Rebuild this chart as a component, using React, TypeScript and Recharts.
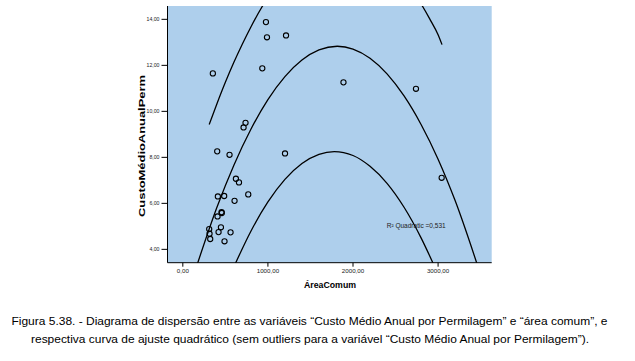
import React from "react"
import { ComposedChart, Line, Scatter, XAxis, YAxis, CartesianGrid } from "recharts"

// scatter points: área comum vs custo médio anual por permilagem
const areaComum = [404, 549, 1201, 624, 660, 769, 412, 486, 608, 455, 458, 408, 310, 448, 314, 420, 561, 322, 490, 977, 989, 1213, 934, 353, 737, 714, 1888, 2740, 3042]
const custoMedio = [8.26, 8.11, 8.17, 7.07, 6.91, 6.39, 6.3, 6.32, 6.11, 5.62, 5.58, 5.43, 4.88, 4.96, 4.68, 4.75, 4.74, 4.45, 4.35, 13.88, 13.22, 13.3, 11.87, 11.65, 9.5, 9.3, 11.26, 10.98, 7.11]

// quadratic fit curve
const fitX = [150, 400, 600, 800, 1000, 1200, 1400, 1600, 1815, 2000, 2200, 2400, 2600, 2800, 3000, 3200, 3500]
const fitY = [3.13, 5.82, 7.66, 9.22, 10.51, 11.51, 12.23, 12.67, 12.83, 12.71, 12.31, 11.63, 10.67, 9.43, 7.92, 6.12, 2.89]

// lower and upper bound curves
const lowerX = [600, 800, 1000, 1200, 1400, 1600, 1780, 2000, 2200, 2400, 2600, 2800, 2960]
const lowerY = [3.24, 4.79, 6.06, 7.04, 7.73, 8.13, 8.25, 8.08, 7.61, 6.87, 5.83, 4.5, 3.24]
const upperX = [310, 400, 500, 600, 700, 800, 937, 1200, 1876, 2500, 2815, 2900, 3000, 3046]
const upperY = [9.43, 10.32, 11.26, 12.13, 12.93, 13.67, 14.58, 15.97, 17.47, 16.19, 14.58, 14.03, 13.33, 12.9]

const xTicks = [0, 1000, 2000, 3000]
const yTicks = [4, 6, 8, 10, 12, 14]

const toRows = (xs: number[], ys: number[]) => xs.map((x, i) => ({ x, y: ys[i] }))

const FONT = "'Liberation Sans', Arial, sans-serif"
const PLOT_BG = "#aecfec"

const fmt = (v: number) => v.toFixed(2).replace(".", ",")

const OpenCircle = (props: any) => {
  const { cx, cy } = props
  return <circle cx={cx} cy={cy} r={2.6} fill="none" stroke="#000" strokeWidth={1.1} />
}

export default function App() {
  const points = toRows(areaComum, custoMedio)
  const fit = toRows(fitX, fitY)
  const lower = toRows(lowerX, lowerY)
  const upper = toRows(upperX, upperY)

  return (
    <div style={{ position: "absolute", left: 0, top: 0, width: 635, height: 361, background: "#fff" }}>
      <ComposedChart width={635} height={300} margin={{ top: 6, right: 143.3, bottom: 7.3, left: 107.5 }}>
        <CartesianGrid horizontal={false} vertical={false} fill={PLOT_BG} />
        <XAxis
          type="number"
          dataKey="x"
          domain={[-180, 3630]}
          allowDataOverflow
          ticks={xTicks}
          tickFormatter={fmt}
          tick={{ fontSize: 6.2, fill: "#222", fontFamily: FONT }}
          tickSize={4}
          tickMargin={1.5}
          height={30}
          axisLine={{ stroke: "#000" }}
          tickLine={{ stroke: "#000" }}
        />
        <XAxis
          xAxisId="top"
          orientation="top"
          type="number"
          domain={[-180, 3630]}
          height={0}
          tick={false}
          tickLine={false}
          axisLine={{ stroke: "#000" }}
        />
        <YAxis
          type="number"
          domain={[3.42, 14.58]}
          allowDataOverflow
          ticks={yTicks}
          tickFormatter={fmt}
          tick={{ fontSize: 5.2, fill: "#222", fontFamily: FONT }}
          tickSize={6}
          tickMargin={2}
          width={60}
          axisLine={{ stroke: "#000" }}
          tickLine={{ stroke: "#000" }}
        />
        <YAxis
          yAxisId="right"
          orientation="right"
          type="number"
          domain={[3.42, 14.58]}
          width={0}
          tick={false}
          tickLine={false}
          axisLine={{ stroke: "#000" }}
        />
        <Line data={upper} dataKey="y" type="monotone" stroke="#000" strokeWidth={1.3} dot={false} isAnimationActive={false} />
        <Line data={fit} dataKey="y" type="monotone" stroke="#000" strokeWidth={1.3} dot={false} isAnimationActive={false} />
        <Line data={lower} dataKey="y" type="monotone" stroke="#000" strokeWidth={1.3} dot={false} isAnimationActive={false} />
        <Scatter data={points} dataKey="y" shape={OpenCircle} isAnimationActive={false} />
      </ComposedChart>

      {/* titles, R² note and figure caption */}
      <svg width={635} height={361} style={{ position: "absolute", left: 0, top: 0, pointerEvents: "none" }}>
        <text
          transform="translate(141.5,146) rotate(-90)"
          textAnchor="middle"
          dominantBaseline="central"
          fontFamily={FONT}
          fontWeight="bold"
          fontSize={9.5}
          textLength={142}
          lengthAdjust="spacingAndGlyphs"
        >
          CustoMédioAnualPerm
        </text>
        <text x={330} y={287.5} textAnchor="middle" fontFamily={FONT} fontWeight="bold" fontSize={8.8} textLength={52} lengthAdjust="spacingAndGlyphs">
          ÁreaComum
        </text>
        <text x={386.7} y={228.3} fontFamily={FONT} fontSize={6.6} fill="#222" textLength={59} lengthAdjust="spacingAndGlyphs">
          R² Quadratic =0,531
        </text>
        <text x={309.5} y={324.7} textAnchor="middle" fontFamily={FONT} fontSize={11} textLength={596} lengthAdjust="spacingAndGlyphs">
          Figura 5.38. - Diagrama de dispersão entre as variáveis “Custo Médio Anual por Permilagem” e “área comum”, e
        </text>
        <text x={310} y={343.3} textAnchor="middle" fontFamily={FONT} fontSize={11} textLength={558} lengthAdjust="spacingAndGlyphs">
          respectiva curva de ajuste quadrático (sem outliers para a variável “Custo Médio Anual por Permilagem”).
        </text>
      </svg>
    </div>
  )
}
